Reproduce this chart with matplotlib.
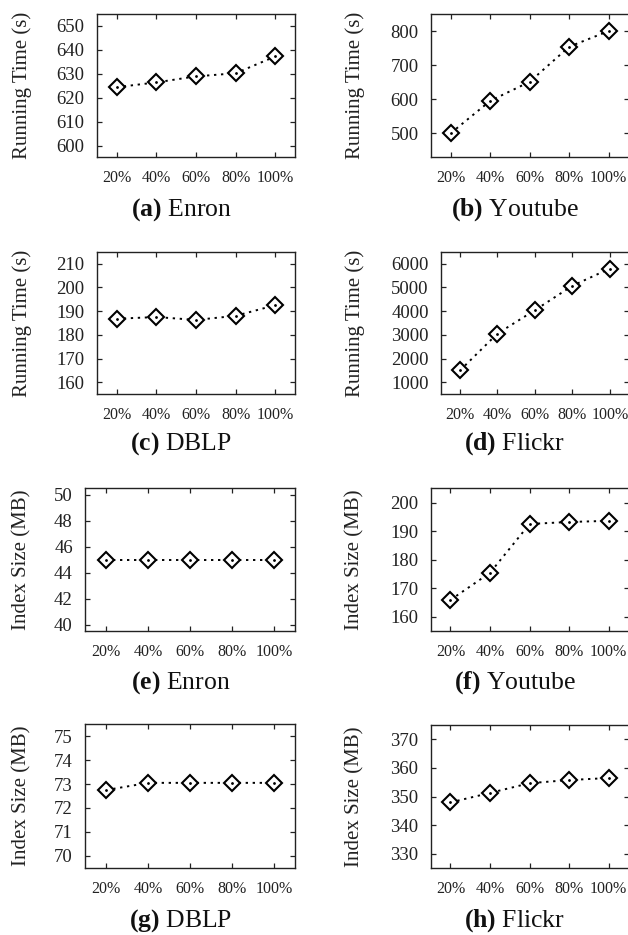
import numpy as np
import matplotlib
matplotlib.use("Agg")
import matplotlib.pyplot as plt

plt.rcParams["font.family"] = ["Liberation Serif", "DejaVu Serif"]
plt.rcParams["mathtext.fontset"] = "custom"
plt.rcParams["mathtext.rm"] = "Liberation Serif"
plt.rcParams["mathtext.bf"] = "Liberation Serif:bold"

x_labels = ["20%", "40%", "60%", "80%", "100%"]
x_pos = [1, 2, 3, 4, 5]

enron_time = [624.5, 626.5, 629.0, 630.3, 637.3]
youtube_time = [500, 595, 651, 754, 800]
dblp_time = [186.8, 187.5, 186.3, 188.0, 192.5]
flickr_time = [1505, 3055, 4040, 5065, 5790]
enron_size = [44.95, 44.95, 44.95, 44.95, 44.95]
youtube_size = [165.9, 175.4, 192.5, 193.2, 193.6]
dblp_size = [72.75, 73.05, 73.05, 73.05, 73.05]
flickr_size = [348.0, 351.3, 354.7, 355.8, 356.5]

W, H = 628, 935
fig = plt.figure(figsize=(W / 100, H / 100), dpi=100)

# (data, ylabel, ylim, yticks, letter, name, box in pixels: left, top, right, bottom)
panels = [
    (enron_time, "Running Time (s)", (595.4, 655), np.arange(600, 651, 10), "a", "Enron", (97, 14, 295, 157)),
    (youtube_time, "Running Time (s)", (430, 850), np.arange(500, 801, 100), "b", "Youtube", (431, 14, 628.5, 157)),
    (dblp_time, "Running Time (s)", (155, 215), np.arange(160, 211, 10), "c", "DBLP", (97, 251.7, 295, 394.3)),
    (flickr_time, "Running Time (s)", (500, 6500), np.arange(1000, 6001, 1000), "d", "Flickr", (441.3, 251.7, 628.5, 394.3)),
    (enron_size, "Index Size (MB)", (39.5, 50.5), np.arange(40, 51, 2), "e", "Enron", (85.3, 488.3, 295, 631)),
    (youtube_size, "Index Size (MB)", (155, 205), np.arange(160, 201, 10), "f", "Youtube", (430.7, 488.3, 628.5, 631)),
    (dblp_size, "Index Size (MB)", (69.5, 75.5), np.arange(70, 76, 1), "g", "DBLP", (85.3, 724.3, 295, 867.7)),
    (flickr_size, "Index Size (MB)", (325, 375), np.arange(330, 371, 10), "h", "Flickr", (430.7, 725, 628.5, 868.3)),
]

for i, (vals, ylab, ylim, yticks, letter, name, box) in enumerate(panels):
    l, t, r, b = box
    ax = fig.add_axes([l / W, 1 - b / H, (r - l) / W, (b - t) / H])
    ax.plot(x_pos, vals, color="black", linestyle=(0, (1.2, 2.4)), linewidth=1.4,
            marker="D", markersize=7.9, markerfacecolor="white",
            markeredgecolor="black", markeredgewidth=1.5)
    ax.plot(x_pos, vals, "k.", markersize=2)
    ax.set_xlim(0.5, 5.5)
    ax.set_ylim(*ylim)
    ax.set_xticks(x_pos)
    ax.set_xticklabels(x_labels)
    ax.set_yticks(yticks)
    ax.tick_params(direction="in", top=True, right=True, length=3.5, width=0.9,
                   colors="#222222")
    ax.tick_params(axis="x", labelsize=11.5, pad=9.5)
    ax.tick_params(axis="y", labelsize=13.5, pad=9)
    for sp in ax.spines.values():
        sp.set_linewidth(1.0)
        sp.set_color("#222222")

    col = i % 2
    lab_x = 22 if col == 0 else 355
    ax.set_ylabel(ylab, fontsize=15, va="center", color="#222222")
    ax.yaxis.set_label_coords((lab_x - l) / (r - l), 0.5)

    cap_x = 181 if col == 0 else 515
    cap_y = [210, 444, 683, 921][i // 2]
    fig.text(cap_x / W, 1 - cap_y / H, r"$\mathbf{(" + letter + r")}$ " + name,
             fontsize=18.5, ha="center", va="center", color="#111111")

fig.savefig("out.png", dpi=100)
